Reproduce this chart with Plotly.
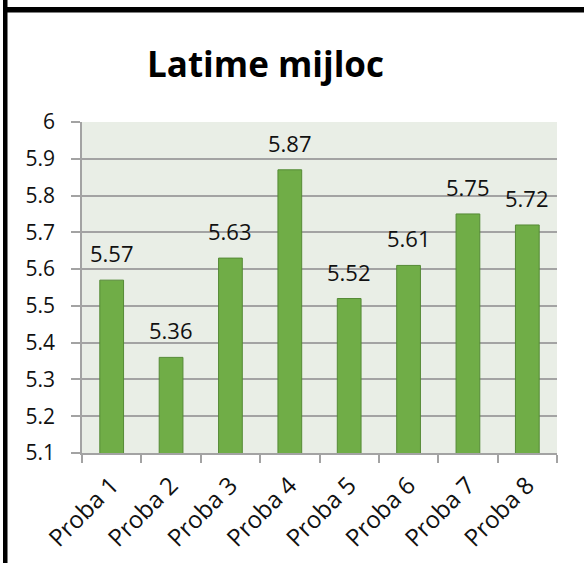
import plotly.graph_objects as go

# Chart data
categories = ["Proba 1", "Proba 2", "Proba 3", "Proba 4",
              "Proba 5", "Proba 6", "Proba 7", "Proba 8"]
values = [5.57, 5.36, 5.63, 5.87, 5.52, 5.61, 5.75, 5.72]
y_tick_values = [5.1, 5.2, 5.3, 5.4, 5.5, 5.6, 5.7, 5.8, 5.9, 6.0]
y_tick_labels = ["5.1", "5.2", "5.3", "5.4", "5.5", "5.6", "5.7", "5.8", "5.9", "6"]
title_text = "Latime mijloc"

W, H = 584, 563
L, R, T, B = 82, 27, 122, 110
plot_w = W - L - R
plot_h = H - T - B


def px_x(px):
    return (px - L) / plot_w


def px_y(py):
    return (H - B - py) / plot_h


FONT = "'Open Sans', sans-serif"
TEXT_COLOR = "#111111"
GRID = "#A3A3A3"

fig = go.Figure(
    go.Bar(
        x=categories,
        y=values,
        marker=dict(color="#70AD47", line=dict(color="#558A36", width=1)),
        width=0.4,
        hoverinfo="x+y",
    )
)

# value labels above the bars
for c, v in zip(categories, values):
    fig.add_annotation(
        x=c, y=v, text=f"{v:.2f}", showarrow=False,
        xref="x", yref="y", yanchor="middle", yshift=27,
        font=dict(family=FONT, size=22, color=TEXT_COLOR),
    )

# title
fig.add_annotation(
    x=px_x(265), y=px_y(63), xref="paper", yref="paper",
    text=f"<b>{title_text}</b>", showarrow=False,
    xanchor="center", yanchor="middle",
    font=dict(family=FONT, size=35, color="#000000"),
)

# frame lines along the top and left edge
fig.add_shape(type="rect", xref="paper", yref="paper",
              x0=px_x(3), x1=px_x(7.5), y0=px_y(H), y1=px_y(0),
              fillcolor="#000000", line=dict(width=0), layer="above")
fig.add_shape(type="rect", xref="paper", yref="paper",
              x0=px_x(3), x1=px_x(W), y0=px_y(12.5), y1=px_y(7),
              fillcolor="#000000", line=dict(width=0), layer="above")

fig.update_layout(
    width=W, height=H, autosize=False,
    margin=dict(l=L, r=R, t=T, b=B, pad=0),
    paper_bgcolor="#FFFFFF",
    plot_bgcolor="#E9EEE6",
    showlegend=False,
    bargap=0.6,
    font=dict(family=FONT, color=TEXT_COLOR),
)

fig.update_xaxes(
    type="category",
    automargin=False,
    showline=True, linecolor=GRID, linewidth=1.5,
    ticks="outside", ticklen=8, tickcolor=GRID, tickwidth=1.5,
    tickson="boundaries",
    showgrid=False,
    tickangle=-45,
    tickfont=dict(family=FONT, size=24, color=TEXT_COLOR),
    ticklabelstandoff=7,
    mirror=False,
)

fig.update_yaxes(
    range=[5.1, 6.0],
    automargin=False,
    tickvals=y_tick_values, ticktext=y_tick_labels,
    showline=True, linecolor=GRID, linewidth=1.5,
    ticks="outside", ticklen=9, tickcolor=GRID, tickwidth=1.5,
    showgrid=True, gridcolor=GRID, gridwidth=1.5,
    zeroline=False,
    tickfont=dict(family=FONT, size=21, color=TEXT_COLOR),
    ticklabelstandoff=12,
)

fig.write_html("out.html")
